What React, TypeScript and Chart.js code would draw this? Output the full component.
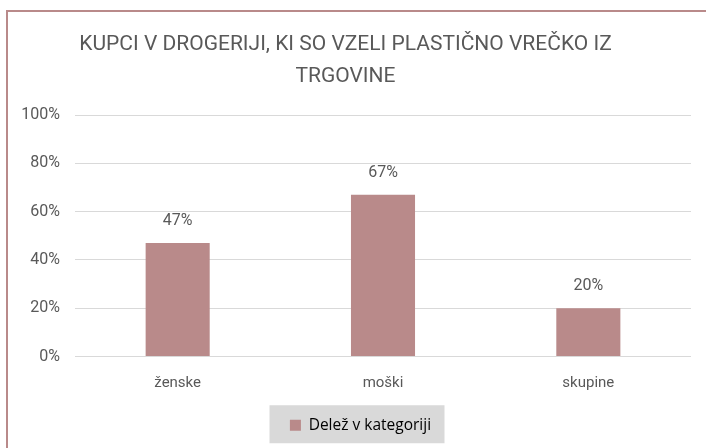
import React, { useEffect, useRef } from "react";
import { Chart, registerables } from "chart.js";

Chart.register(...registerables);

const categories = ["ženske", "moški", "skupine"];
const shares = [47, 67, 20];
const yTicks = [0, 20, 40, 60, 80, 100];
const seriesLabel = "Delež v kategoriji";
const titleLines = ["KUPCI V DROGERIJI, KI SO VZELI PLASTIČNO VREČKO IZ", "TRGOVINE"];

const FONT = "Roboto, sans-serif";
const LEGEND_FONT = "'Open Sans', sans-serif";
const BAR = "#b98a8a";
const TEXT = "#595959";

const dataLabels = {
  id: "dataLabels",
  afterDatasetsDraw(chart: any) {
    const ctx = chart.ctx;
    const meta = chart.getDatasetMeta(0);
    ctx.save();
    ctx.font = `16px ${FONT}`;
    ctx.fillStyle = TEXT;
    ctx.textAlign = "center";
    ctx.textBaseline = "middle";
    meta.data.forEach((el: any, i: number) => {
      ctx.fillText(`${shares[i]}%`, el.x, el.y - 22);
    });
    ctx.restore();
  },
};

const legendShift = {
  id: "legendShift",
  afterLayout(chart: any) {
    const lg = chart.legend;
    if (!lg) return;
    lg.left += 15;
    lg.right += 15;
  },
};

const legendBg = {
  id: "legendBg",
  beforeDraw(chart: any) {
    const lg = chart.legend;
    if (!lg || !lg.legendHitBoxes || !lg.legendHitBoxes.length) return;
    const b = lg.legendHitBoxes[0];
    const ctx = chart.ctx;
    ctx.save();
    ctx.fillStyle = "#d9d9d9";
    const cx = b.left + b.width / 2 - 3.5;
    const cy = b.top + b.height / 2 - 1;
    ctx.fillRect(cx - 87.5, cy - 19, 175, 38);
    ctx.restore();
  },
};

export default function App() {
  const ref = useRef<HTMLCanvasElement | null>(null);
  useEffect(() => {
    if (!ref.current) return;
    const chart = new Chart(ref.current, {
      type: "bar",
      data: {
        labels: categories,
        datasets: [
          {
            label: seriesLabel,
            data: shares,
            backgroundColor: BAR,
            categoryPercentage: 1,
            barPercentage: 0.312,
          },
        ],
      },
      options: {
        animation: false,
        responsive: false,
        maintainAspectRatio: false,
        layout: { padding: { left: 0, right: 15, top: 0, bottom: 5 } },
        plugins: {
          tooltip: { enabled: false },
          title: {
            display: true,
            text: titleLines,
            color: TEXT,
            font: { family: FONT, size: 21, weight: "normal", lineHeight: 1.5 },
            padding: { top: 29, bottom: 23 },
          },
          legend: {
            display: true,
            position: "bottom",
            labels: {
              color: "#000",
              font: { family: LEGEND_FONT, size: 15.5 },
              boxWidth: 11,
              boxHeight: 11,
              padding: 12,
            },
          },
        },
        scales: {
          x: {
            grid: { display: false },
            border: { display: false },
            ticks: { color: TEXT, font: { family: FONT, size: 15 }, padding: 10 },
            afterFit(scale: any) {
              scale.height += 3;
            },
          },
          y: {
            min: 0,
            max: 100,
            afterFit(scale: any) {
              scale.width = 75;
            },
            afterBuildTicks(scale: any) {
              scale.ticks = yTicks.map((v) => ({ value: v }));
            },
            grid: { color: "#d9d9d9", lineWidth: 1, drawTicks: false },
            border: { display: false },
            ticks: {
              color: TEXT,
              font: { family: FONT, size: 16 },
              padding: 15,
              callback: (v: any) => `${v}%`,
            },
          },
        },
      },
      plugins: [dataLabels, legendShift, legendBg],
    });
    return () => chart.destroy();
  }, []);
  return (
    <div style={{ position: "fixed", left: 0, top: 0, width: 706, height: 448, background: "#fff", overflow: "hidden" }}>
      <div
        style={{
          position: "absolute",
          left: 6,
          top: 10,
          width: 720,
          height: 460,
          border: `2px solid ${BAR}`,
          boxSizing: "border-box",
        }}
      />
      <canvas ref={ref} width={706} height={448} style={{ position: "absolute", left: 0, top: 0, display: "block" }} />
    </div>
  );
}
